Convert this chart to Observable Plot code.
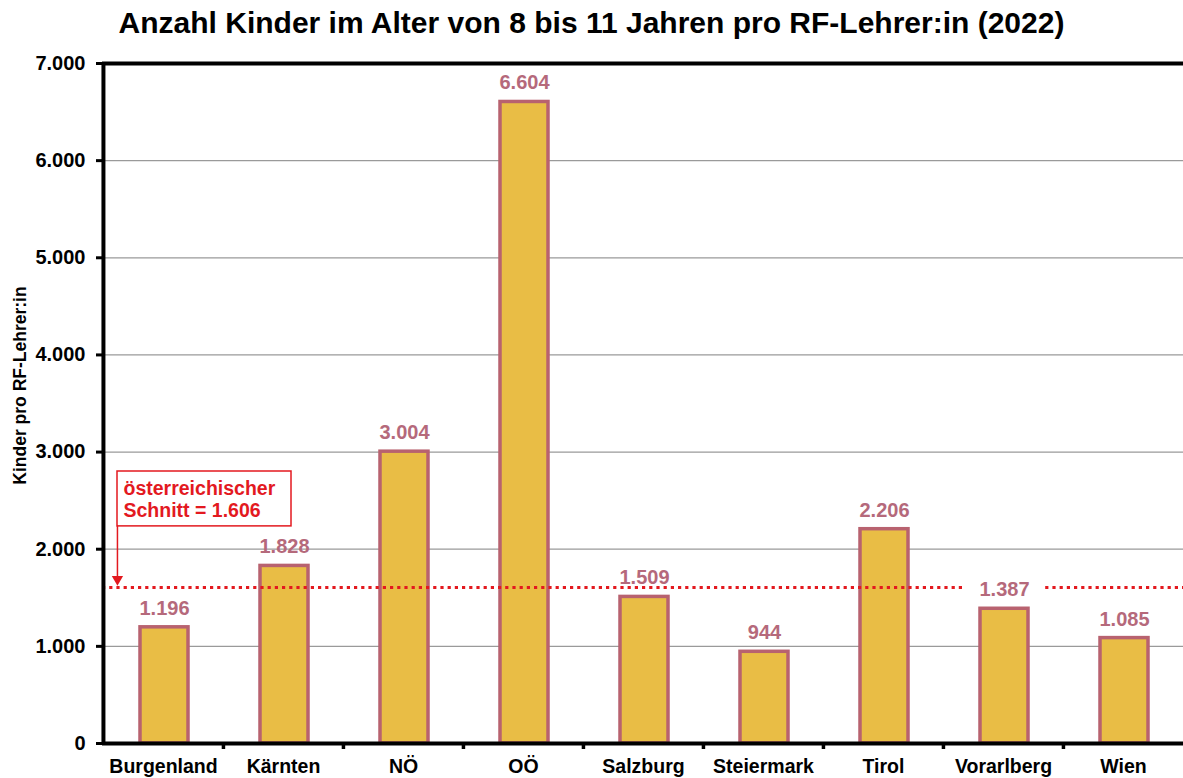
<!DOCTYPE html>
<html>
<head>
<meta charset="utf-8">
<script src="https://cdn.jsdelivr.net/npm/d3@7"></script>
<script src="https://cdn.jsdelivr.net/npm/@observablehq/plot@0.6"></script>
<style>
  html, body { margin: 0; padding: 0; background: #fff; }
  body { width: 1183px; height: 778px; overflow: hidden; font-family: "Liberation Sans", Arial, sans-serif; }
  #title { height: 55px; box-sizing: border-box; padding-top: 8px; text-align: center; font-size: 30px; line-height: 30px; font-weight: bold; color: #000; white-space: nowrap; }
  #chart svg { display: block; overflow: visible; }
</style>
</head>
<body>
<div id="title">Anzahl Kinder im Alter von 8 bis 11 Jahren pro RF-Lehrer:in (2022)</div>
<div id="chart"></div>
<script>
const categories = ["Burgenland", "Kärnten", "NÖ", "OÖ", "Salzburg", "Steiermark", "Tirol", "Vorarlberg", "Wien"];
const values = [1196, 1828, 3004, 6604, 1509, 944, 2206, 1387, 1085];
const average = 1606;
const yTicks = [0, 1000, 2000, 3000, 4000, 5000, 6000, 7000];
const yLabel = "Kinder pro RF-Lehrer:in";
const avgText = ["österreichischer", "Schnitt = "];

const de = d3.formatLocale({decimal: ",", thousands: ".", grouping: [3], currency: ["", " €"]});
const fmt = de.format(",d");

const data = categories.map((name, i) => ({name, value: values[i]}));

const font = "Liberation Sans, Arial, sans-serif";
const red = "#e3191f";
const barFill = "#e9bd45";
const barStroke = "#b8626f";
const labelColor = "#b5697b";

const W = 1183, H = 723;
const mLeft = 102, mRight = 0, mTop = 8, mBottom = 35;
const step = (W - mLeft - mRight) / categories.length;
const pxPerUnit = (H - mTop - mBottom) / 7000;
const labelOffset = 19; // px above bar top
// labels that sit on the average line get a white gap behind them
const gapData = data.filter(d => Math.abs(d.value + labelOffset / pxPerUnit - average) < 50);

const annotation = [{name: categories[0], text: avgText[0] + "\n" + avgText[1] + fmt(average)}];

const chart = Plot.plot({
  width: W,
  height: H,
  marginLeft: mLeft,
  marginRight: mRight,
  marginTop: mTop,
  marginBottom: mBottom,
  style: {fontFamily: font, background: "white", overflow: "visible"},
  x: {domain: categories, padding: 0, label: null},
  y: {domain: [0, 7000], label: null},
  marks: [
    Plot.gridY({ticks: yTicks.slice(1, -1), stroke: "#9a9a9a", strokeOpacity: 1, strokeWidth: 1.2}),
    Plot.barY(data, {x: "name", y: "value", fill: barFill, stroke: barStroke, strokeWidth: 3.5, insetLeft: 37, insetRight: 35}),
    Plot.ruleY([average], {stroke: red, strokeWidth: 3.2, strokeDasharray: "3.2,4"}),
    Plot.barY(gapData, {x: "name", y1: average - 60, y2: average + 60, fill: "white", insetLeft: 23, insetRight: 21}),
    Plot.text(data, {x: "name", y: "value", text: d => fmt(d.value), dy: -labelOffset, dx: 1, fill: labelColor, fontSize: 20, fontWeight: "bold", fontFamily: font}),
    // axes lines
    Plot.ruleY([0], {stroke: "#000", strokeWidth: 4}),
    Plot.ruleY([7000], {stroke: "#000", strokeWidth: 4}),
    Plot.ruleX([categories[0]], {dx: -step / 2, y1: 0, y2: 7000, stroke: "#000", strokeWidth: 4}),
    Plot.ruleX(categories.slice(1), {x: d => d, dx: -step / 2, y1: 0, y2: -6 / pxPerUnit, stroke: "#000", strokeWidth: 3.5}),
    Plot.axisY({ticks: yTicks, tickFormat: () => "", tickSize: 6, strokeWidth: 3, label: null}),
    Plot.text(yTicks, {y: d => d, frameAnchor: "left", textAnchor: "end", dx: -17, text: d => fmt(d), fontSize: 20, fontWeight: "bold", fill: "#000", fontFamily: font}),
    Plot.axisX({tickSize: 0, tickPadding: 16, fontSize: 19.5, fontWeight: "bold", fill: "#000", label: null}),
    Plot.text([yLabel], {frameAnchor: "left", textAnchor: "middle", rotate: -90, dx: -82, dy: -18, fontSize: 17.5, fontWeight: "bold", fill: "#000", fontFamily: font}),
    // annotation box + arrow
    Plot.barY(annotation, {x: "name", y1: 2235, y2: 2800, fill: "white", stroke: red, strokeWidth: 1.5, insetLeft: 14, insetRight: -68}),
    Plot.text(annotation, {x: "name", y: 2518, text: "text", textAnchor: "start", dx: -40, lineHeight: 1.12, fill: red, fontSize: 19.5, fontWeight: "bold", fontFamily: font}),
    Plot.ruleX(annotation, {x: "name", dx: -step / 2 + 14, y1: 2235, y2: 1700, stroke: red, strokeWidth: 1.5}),
    Plot.dot(annotation, {x: "name", y: 1690, dx: -step / 2 + 14, symbol: "triangle", rotate: 180, r: 4.2, fill: red, stroke: "none"})
  ]
});
document.getElementById("chart").appendChild(chart);
</script>
</body>
</html>
